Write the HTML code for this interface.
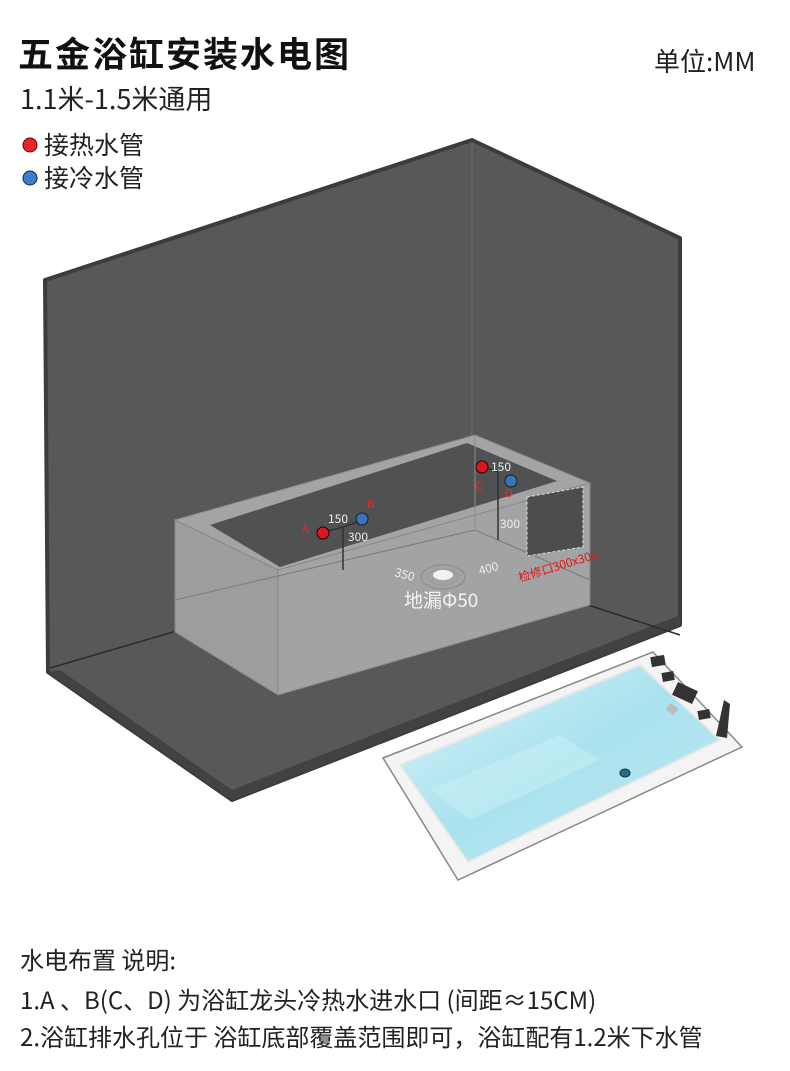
<!DOCTYPE html>
<html><head><meta charset="utf-8"><style>
html,body{margin:0;padding:0;background:#fff;width:790px;height:1071px;overflow:hidden}
svg{display:block}
text{font-family:"Noto Sans CJK SC","Liberation Sans",sans-serif}
</style></head><body>
<svg width="790" height="1071" viewBox="0 0 790 1071" xmlns="http://www.w3.org/2000/svg">
<defs>
<linearGradient id="water" x1="0" y1="0" x2="1" y2="1">
<stop offset="0" stop-color="#d9f3f8"/><stop offset="0.5" stop-color="#a9e2ee"/><stop offset="1" stop-color="#bfeaf2"/>
</linearGradient>
</defs>
<text x="18" y="67" font-size="35" font-weight="bold" fill="#111" letter-spacing="2">五金浴缸安装水电图</text>
<text x="654" y="71" font-size="26" fill="#222">单位:MM</text>
<text x="20" y="109" font-size="27" fill="#222">1.1米-1.5米通用</text>
<circle cx="30" cy="145" r="7" fill="#e02a2a" stroke="#600" stroke-width="1"/>
<text x="44" y="154" font-size="25" fill="#222">接热水管</text>
<circle cx="30" cy="178" r="7" fill="#3c7fd0" stroke="#123" stroke-width="1"/>
<text x="44" y="187" font-size="25" fill="#222">接冷水管</text>

<polygon points="45,280 472,140 680,238 680,625 232,800 48,672" fill="#565859" stroke="#3a3c3e" stroke-width="4" stroke-linejoin="round"/>
<polygon points="48,672 232,800 680,625 680,615 232,790 60,670" fill="#404244"/>
<line x1="472" y1="142" x2="472" y2="560" stroke="#6b6d6f" stroke-width="1"/>
<line x1="50" y1="668" x2="180" y2="630" stroke="#2a2c2e" stroke-width="1.5"/>
<line x1="588" y1="605" x2="680" y2="635" stroke="#2a2c2e" stroke-width="1.5"/>

<polygon points="175,520 475,435 590,483 278,570" fill="#a3a4a5" stroke="#8a8b8c"/>
<polygon points="210,525 467,443 557,481 280,567" fill="#4f5152"/>
<polygon points="175,520 278,570 278,695 175,632" fill="#9c9d9e" stroke="#888"/>
<polygon points="278,570 590,483 590,605 278,695" fill="#a2a3a4" stroke="#888"/>
<line x1="175" y1="600" x2="475" y2="530" stroke="#7a7b7c" stroke-width="1"/>
<line x1="475" y1="530" x2="590" y2="580" stroke="#7a7b7c" stroke-width="1"/>
<line x1="475" y1="435" x2="475" y2="530" stroke="#8a8b8c" stroke-width="1"/>
<line x1="343" y1="527" x2="343" y2="570" stroke="#333" stroke-width="1.5"/>
<line x1="324" y1="532" x2="343" y2="527" stroke="#333" stroke-width="1.5"/>
<line x1="343" y1="527" x2="360" y2="521" stroke="#333" stroke-width="1.5"/>
<line x1="498" y1="472" x2="498" y2="540" stroke="#333" stroke-width="1.5"/>
<line x1="484" y1="467" x2="498" y2="472" stroke="#333" stroke-width="1.5"/>
<circle cx="323" cy="533" r="6" fill="#d61820" stroke="#200" stroke-width="1"/>
<circle cx="362" cy="519" r="6" fill="#3a74b8" stroke="#122" stroke-width="1"/>
<circle cx="482" cy="467" r="6" fill="#d61820" stroke="#200" stroke-width="1"/>
<circle cx="511" cy="481" r="6" fill="#3a74b8" stroke="#122" stroke-width="1"/>
<text x="302" y="533" font-size="11" fill="#e03030">A</text>
<text x="367" y="508" font-size="11" fill="#e03030">B</text>
<text x="475" y="491" font-size="13" fill="#e03030">C</text>
<text x="505" y="497" font-size="11" fill="#e03030">D</text>
<text x="328" y="523" font-size="12" fill="#eee">150</text>
<text x="348" y="541" font-size="12" fill="#eee">300</text>
<text x="491" y="471" font-size="12" fill="#eee">150</text>
<text x="500" y="528" font-size="12" fill="#eee">300</text>
<polygon points="527,497 583,487 583,547 527,556" fill="#4b4d4e" stroke="#ddd" stroke-width="1" stroke-dasharray="3,2"/>
<text x="520" y="582" font-size="12" fill="#e01818" transform="rotate(-17 520 582)">检修口300x300</text>
<ellipse cx="443" cy="577" rx="22" ry="12" fill="none" stroke="#888" stroke-width="1"/>
<ellipse cx="443" cy="577" rx="15" ry="8" fill="none" stroke="#999" stroke-width="1"/>
<ellipse cx="443" cy="575" rx="10" ry="5" fill="#f2f2f2"/>
<text x="394" y="576" font-size="12" fill="#eee" transform="rotate(15 394 576)">350</text>
<text x="480" y="575" font-size="12" fill="#eee" transform="rotate(-15 480 575)">400</text>
<text x="404" y="607" font-size="19" fill="#f4f4f4">地漏Φ50</text>

<polygon points="383,758 653,652 742,747 458,880" fill="#f4f4f4" stroke="#888" stroke-width="1.5"/>
<polygon points="400,765 640,665 720,740 468,862" fill="url(#water)" stroke="#e8e8e8" stroke-width="2"/>
<polygon points="430,790 560,735 600,760 470,820" fill="#c6eef5" opacity="0.6"/>
<ellipse cx="625" cy="773" rx="5" ry="4" fill="#2a6d80" stroke="#134" stroke-width="1"/>
<rect x="651" y="656" width="14" height="10" fill="#333" transform="rotate(-10 658 661)"/>
<rect x="662" y="672" width="12" height="9" fill="#333" transform="rotate(-10 668 676)"/>
<rect x="674" y="686" width="22" height="14" fill="#333" transform="rotate(25 685 693)"/>
<rect x="698" y="710" width="12" height="9" fill="#333" transform="rotate(-10 704 714)"/>
<polygon points="716,736 724,700 730,704 727,738" fill="#333"/>
<rect x="667" y="705" width="10" height="8" fill="#bbb" transform="rotate(35 672 709)"/>

<text x="20" y="969" font-size="24" fill="#222">水电布置 说明:</text>
<text x="20" y="1009" font-size="24" fill="#222">1.A 、B(C、D) 为浴缸龙头冷热水进水口 (间距≈15CM)</text>
<text x="20" y="1046" font-size="24" fill="#222">2.浴缸排水孔位于 浴缸底部覆盖范围即可，浴缸配有1.2米下水管</text>
</svg>
</body></html>
